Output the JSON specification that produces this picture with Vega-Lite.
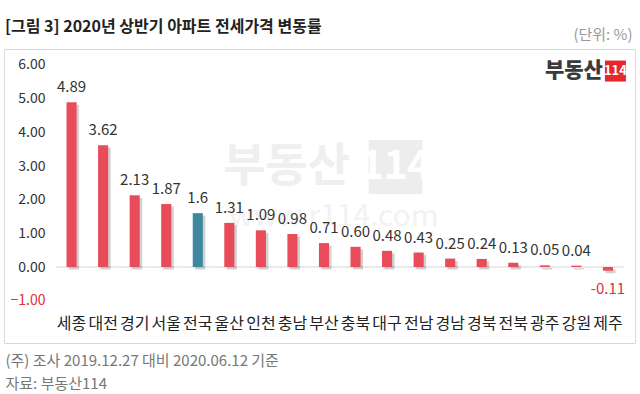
{
  "$schema": "https://vega.github.io/schema/vega-lite/v6.json",
  "width": 631,
  "height": 294,
  "autosize": {"type": "none"},
  "padding": {"left": 4, "top": 49, "right": 5, "bottom": 51},
  "background": "white",
  "config": {
    "font": "Noto Sans CJK KR",
    "view": {"stroke": "#d9d9d9", "strokeWidth": 1}
  },
  "title": {
    "text": "[그림 3] 2020년 상반기 아파트 전세가격 변동률",
    "anchor": "start",
    "fontSize": 16,
    "fontWeight": "bold",
    "color": "#222222",
    "baseline": "middle",
    "offset": 5,
    "dx": 1,
    "dy": 21
  },
  "data": {
    "values": [
      {"region": "세종", "value": 4.89, "label": "4.89", "type": "지역"},
      {"region": "대전", "value": 3.62, "label": "3.62", "type": "지역"},
      {"region": "경기", "value": 2.13, "label": "2.13", "type": "지역"},
      {"region": "서울", "value": 1.87, "label": "1.87", "type": "지역"},
      {"region": "전국", "value": 1.6, "label": "1.6", "type": "전국"},
      {"region": "울산", "value": 1.31, "label": "1.31", "type": "지역"},
      {"region": "인천", "value": 1.09, "label": "1.09", "type": "지역"},
      {"region": "충남", "value": 0.98, "label": "0.98", "type": "지역"},
      {"region": "부산", "value": 0.71, "label": "0.71", "type": "지역"},
      {"region": "충북", "value": 0.60, "label": "0.60", "type": "지역"},
      {"region": "대구", "value": 0.48, "label": "0.48", "type": "지역"},
      {"region": "전남", "value": 0.43, "label": "0.43", "type": "지역"},
      {"region": "경남", "value": 0.25, "label": "0.25", "type": "지역"},
      {"region": "경북", "value": 0.24, "label": "0.24", "type": "지역"},
      {"region": "전북", "value": 0.13, "label": "0.13", "type": "지역"},
      {"region": "광주", "value": 0.05, "label": "0.05", "type": "지역"},
      {"region": "강원", "value": 0.04, "label": "0.04", "type": "지역"},
      {"region": "제주", "value": -0.11, "label": "-0.11", "type": "지역"}
    ]
  },
  "layer": [
    {
      "mark": {"type": "bar", "width": {"band": 0.32}, "color": "#e84c58"},
      "encoding": {
        "x": {
          "field": "region", "type": "nominal", "sort": null,
          "scale": {"paddingInner": 0, "paddingOuter": 1.1447, "align": 0.821},
          "axis": {
            "orient": "bottom", "offset": -30, "domain": false, "ticks": false,
            "labelAngle": 0, "labelFontSize": 16, "labelColor": "#222222",
            "labelPadding": 2, "labelOverlap": false, "labelBound": false,
            "title": ["(주) 조사 2019.12.27 대비 2020.06.12 기준", "자료: 부동산114"],
            "titleX": 1, "titleY": 40, "titleAlign": "left", "titleAnchor": "start",
            "titleBaseline": "top", "titleFontSize": 15, "titleColor": "#777777",
            "titleFontWeight": "normal", "titleLineHeight": 23
          }
        },
        "y": {
          "field": "value", "type": "quantitative",
          "scale": {"domain": [-2.257, 6.475], "nice": false, "zero": false},
          "axis": {
            "values": [-1, 0, 1, 2, 3, 4, 5, 6], "format": ".2f", "offset": -43,
            "domain": false, "ticks": false, "grid": false, "labelPadding": 2,
            "labelFontSize": 14,
            "labelColor": {"condition": {"test": "datum.value < 0", "value": "#e0303c"}, "value": "#333333"},
            "title": "(단위: %)", "titleAngle": 0, "titleAlign": "right", "titleBaseline": "middle",
            "titleX": 585, "titleY": -15, "titleColor": "#999999", "titleFontSize": 15,
            "titleFontWeight": "normal"
          }
        },
        "opacity": {"value": 0}
      }
    },
    {
      "data": {"values": [{"t": "부동산"}]},
      "mark": {"type": "text", "fontSize": 46, "fontWeight": "bold", "color": "#efefef", "dx": -6},
      "encoding": {
        "x": {"datum": "충남", "type": "nominal"},
        "y": {"datum": 2.97, "type": "quantitative"},
        "text": {"field": "t"}
      }
    },
    {
      "data": {"values": [{"t": "114"}]},
      "mark": {"type": "point", "shape": "square", "size": 2900, "filled": true, "color": "#ededed", "opacity": 1, "xOffset": 8.5},
      "encoding": {
        "x": {"datum": "대구", "type": "nominal"},
        "y": {"datum": 2.97, "type": "quantitative"}
      }
    },
    {
      "data": {"values": [{"t": "114"}]},
      "mark": {"type": "text", "fontSize": 40, "fontWeight": "bold", "color": "#ffffff", "dx": 8.5},
      "encoding": {
        "x": {"datum": "대구", "type": "nominal"},
        "y": {"datum": 2.97, "type": "quantitative"},
        "text": {"field": "t"}
      }
    },
    {
      "data": {"values": [{"t": "www.r114.com"}]},
      "mark": {"type": "text", "fontSize": 30, "color": "#f2f2f2", "dx": 10},
      "encoding": {
        "x": {"datum": "부산", "type": "nominal"},
        "y": {"datum": 1.49, "type": "quantitative"},
        "text": {"field": "t"}
      }
    },
    {
      "mark": {"type": "tick", "size": 31.1, "thickness": 1, "color": "#d4d4d4", "opacity": 1},
      "encoding": {
        "x": {"field": "region", "type": "nominal", "sort": null},
        "y": {"datum": 0, "type": "quantitative"}
      }
    },
    {
      "mark": {"type": "bar", "width": {"band": 0.32}, "color": "#000000", "opacity": 0.18, "xOffset": 2.5, "yOffset": 2.5, "y2Offset": 3},
      "encoding": {
        "x": {"field": "region", "type": "nominal", "sort": null},
        "y": {"field": "value", "type": "quantitative"}
      }
    },
    {
      "mark": {"type": "bar", "width": {"band": 0.32}},
      "encoding": {
        "x": {"field": "region", "type": "nominal", "sort": null},
        "y": {"field": "value", "type": "quantitative"},
        "color": {
          "field": "type", "type": "nominal",
          "scale": {"domain": ["지역", "전국"], "range": ["#e84c58", "#3e89a0"]},
          "legend": null
        }
      }
    },
    {
      "transform": [{"filter": "datum.value >= 0"}],
      "mark": {"type": "text", "baseline": "bottom", "dy": -7, "fontSize": 15, "color": "#333333"},
      "encoding": {
        "x": {"field": "region", "type": "nominal", "sort": null},
        "y": {"field": "value", "type": "quantitative"},
        "text": {"field": "label"}
      }
    },
    {
      "transform": [{"filter": "datum.value < 0"}],
      "mark": {"type": "text", "baseline": "top", "dy": 11, "fontSize": 15, "color": "#e0303c"},
      "encoding": {
        "x": {"field": "region", "type": "nominal", "sort": null},
        "y": {"field": "value", "type": "quantitative"},
        "text": {"field": "label"}
      }
    },
    {
      "data": {"values": [{"t": "부동산"}]},
      "mark": {"type": "text", "fontSize": 21, "fontWeight": 900, "color": "#3a3a3a", "align": "right", "dx": -5},
      "encoding": {
        "x": {"datum": "제주", "type": "nominal"},
        "y": {"datum": 5.82, "type": "quantitative"},
        "text": {"field": "t"}
      }
    },
    {
      "data": {"values": [{"t": "114"}]},
      "mark": {"type": "point", "shape": "square", "size": 441, "filled": true, "color": "#e8262b", "opacity": 1, "xOffset": 7.5},
      "encoding": {
        "x": {"datum": "제주", "type": "nominal"},
        "y": {"datum": 5.82, "type": "quantitative"}
      }
    },
    {
      "data": {"values": [{"t": "114"}]},
      "mark": {"type": "text", "fontSize": 13, "fontWeight": "bold", "color": "#ffffff", "dx": 7.5},
      "encoding": {
        "x": {"datum": "제주", "type": "nominal"},
        "y": {"datum": 5.82, "type": "quantitative"},
        "text": {"field": "t"}
      }
    }
  ]
}
